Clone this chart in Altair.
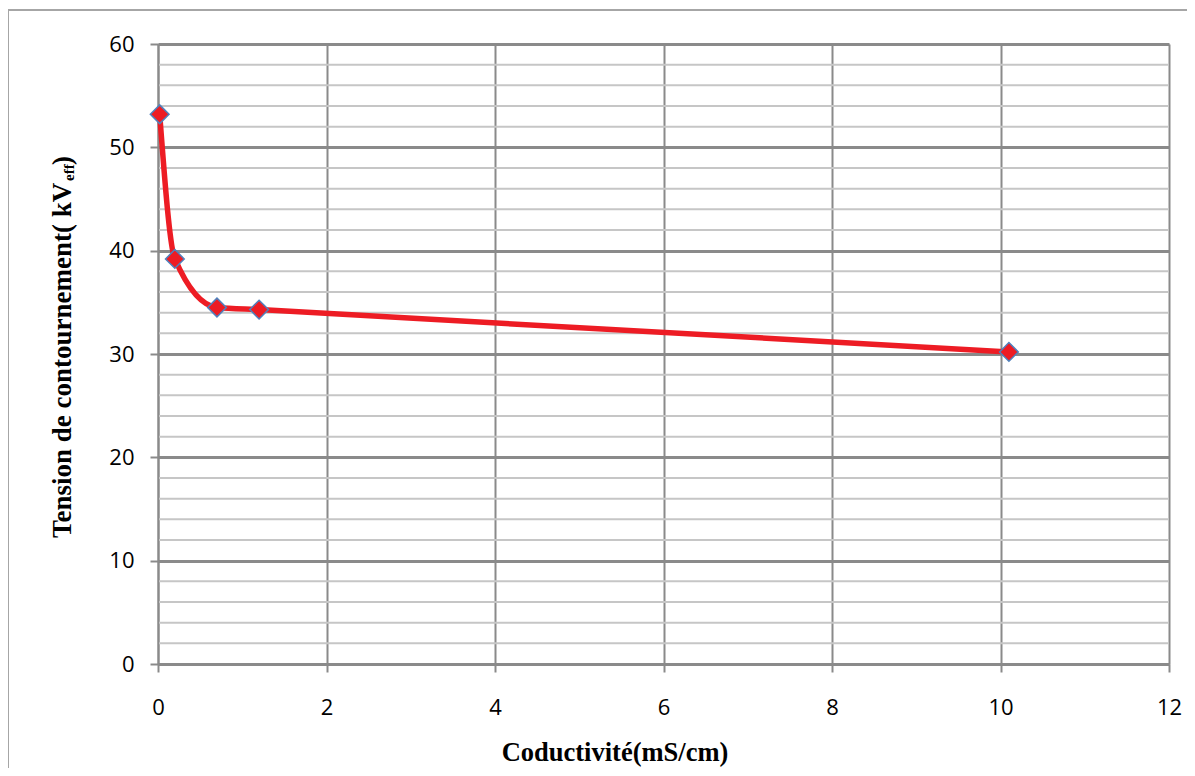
import altair as alt
import pandas as pd

# Data
conductivity = [0.02, 0.2, 0.7, 1.2, 10.1]
voltage = [53.2, 39.2, 34.5, 34.3, 30.2]

x_ticks = [0, 2, 4, 6, 8, 10, 12]
y_ticks = [0, 10, 20, 30, 40, 50, 60]
y_minor = [v for v in range(0, 61, 2) if v % 10 != 0]

x_title = "Coductivité(mS/cm)"
y_title_main = "Tension de contournement( kV"
y_title_sub = "eff"
y_title_end = ")"

df = pd.DataFrame({"x": conductivity, "y": voltage})
minor_df = pd.DataFrame({"y": y_minor})
one = pd.DataFrame({"k": [0]})

GRID_DARK = "#8a8a8a"
GRID_LIGHT = "#c6c6c6"

x_enc = alt.X(
    "x:Q",
    scale=alt.Scale(domain=[0, 12], nice=False),
    axis=alt.Axis(
        values=x_ticks, title=None, grid=True, gridColor=GRID_DARK, gridWidth=2,
        domainColor=GRID_DARK, domainWidth=2, tickColor=GRID_DARK, tickWidth=2,
        tickSize=8, labelFont="Open Sans", labelFontSize=22, labelColor="#000",
        labelPadding=25, labelFlush=False, labelOverlap=False, format="d",
    ),
)
y_enc = alt.Y(
    "y:Q",
    scale=alt.Scale(domain=[0, 60], nice=False),
    axis=alt.Axis(
        values=y_ticks, title=None, grid=True, gridColor=GRID_DARK, gridWidth=3,
        domainColor=GRID_DARK, domainWidth=2, tickColor=GRID_DARK, tickWidth=2,
        tickSize=8, labelFont="Open Sans", labelFontSize=22, labelColor="#000",
        labelPadding=16, labelFlush=False, labelOverlap=False,
    ),
)

minor = alt.Chart(minor_df).mark_rule(color=GRID_LIGHT, strokeWidth=2).encode(
    y="y:Q", x=alt.value(1), x2=alt.value(1011)
)

line = alt.Chart(df).mark_line(
    color="#ed1c24", strokeWidth=5.5, interpolate="monotone"
).encode(x=x_enc, y=y_enc)

points = alt.Chart(df).mark_point(
    shape="diamond", filled=True, size=350, fill="#ed1c24", fillOpacity=1,
    stroke="#4f81bd", strokeWidth=1.5, opacity=1,
).encode(x="x:Q", y="y:Q")

frame = alt.Chart(one).mark_rect(
    fill="transparent", stroke="#a6a6a6", strokeWidth=2
).encode(x=alt.value(-150), x2=alt.value(1060), y=alt.value(-34), y2=alt.value(780))

serif = dict(font="Liberation Serif", fontWeight="bold", color="#000")

xt = alt.Chart(one).mark_text(
    align="center", baseline="alphabetic", fontSize=26.5, **serif
).encode(x=alt.value(457), y=alt.value(717), text=alt.value(x_title))

yt1 = alt.Chart(one).mark_text(
    align="left", baseline="alphabetic", angle=270, fontSize=27, **serif
).encode(x=alt.value(-87), y=alt.value(494), text=alt.value(y_title_main))

yt2 = alt.Chart(one).mark_text(
    align="left", baseline="alphabetic", angle=270, fontSize=15, **serif
).encode(x=alt.value(-84), y=alt.value(137), text=alt.value(y_title_sub))

yt3 = alt.Chart(one).mark_text(
    align="left", baseline="alphabetic", angle=270, fontSize=27, **serif
).encode(x=alt.value(-87), y=alt.value(121), text=alt.value(y_title_end))

chart = alt.layer(frame, minor, line, points, xt, yt1, yt2, yt3).properties(
    width=1011, height=620,
    padding={"left": 150, "top": 36, "right": 18, "bottom": 104},
    autosize=alt.AutoSizeParams(type="none"),
).configure_view(strokeWidth=0).configure(background="white")

chart.save("out.html", embed_options={"renderer": "svg", "actions": False})
